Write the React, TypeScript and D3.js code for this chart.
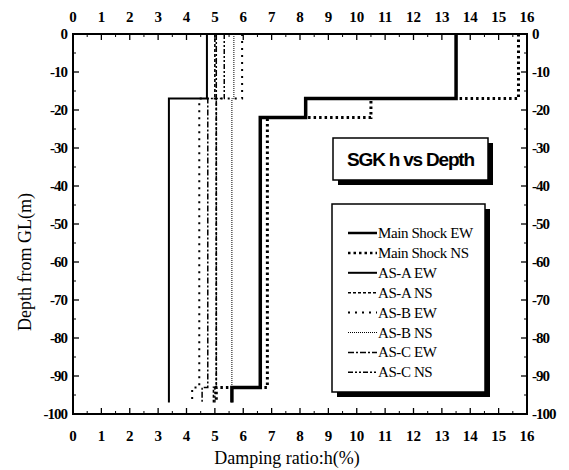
import React from 'react';
import * as d3 from 'd3';

// layer boundaries (m), each series gives one damping value per layer
const depthBounds = [0, -17, -22, -93, -97];
const seriesNames = ['Main Shock EW', 'Main Shock NS', 'AS-A EW', 'AS-A NS', 'AS-B EW', 'AS-B NS', 'AS-C EW', 'AS-C NS'];
const msEW = [13.5, 8.2, 6.6, 5.6];
const msNS = [15.7, 10.5, 6.85, 5.05];
const asAEW = [4.72, 3.38, 3.38, 3.38];
const asANS = [5.0, 5.05, 5.05, 4.95];
const asBEW = [5.96, 4.45, 4.45, 4.2];
const asBNS = [5.67, 5.6, 5.6, 5.6];
const asCEW = [5.05, 4.75, 4.75, 4.55];
const asCNS = [5.33, 5.05, 5.05, 5.0];
const xTicks = d3.range(0, 17);
const yTicks = d3.range(0, -101, -10);

const styles = [
    { w: 3.5, dash: null },
    { w: 3, dash: '2.5,3' },
    { w: 2, dash: null },
    { w: 1.6, dash: '3,2' },
    { w: 2, dash: '2,5' },
    { w: 1, dash: '1,1' },
    { w: 1.5, dash: '6,2,2,2' },
    { w: 1.5, dash: '5,2,2,2,2,2' },
];

export default function App() {
    const all = [msEW, msNS, asAEW, asANS, asBEW, asBNS, asCEW, asCNS];
    const margin = { left: 73, top: 34, right: 42, bottom: 56 };
    const W = 569, H = 470;
    const x = d3.scaleLinear().domain([0, 16]).range([margin.left, W - margin.right]);
    const y = d3.scaleLinear().domain([0, -100]).range([margin.top, H - margin.bottom]);

    const line = d3.line<[number, number]>().x(d => x(d[0])).y(d => y(d[1]));
    const stepPts = (vals: number[]) => {
        const pts: [number, number][] = [];
        vals.forEach((v, i) => {
            pts.push([v, depthBounds[i]]);
            pts.push([v, depthBounds[i + 1]]);
        });
        return pts;
    };

    const minorX = d3.range(0.5, 16, 1);
    const minorY = d3.range(-5, -100, -10);
    const font = "'Liberation Serif', 'DejaVu Serif', serif";

    const legX = 332, legY = 204, legW = 153, legH = 188;
    const ttlX = 333, ttlY = 138, ttlW = 155, ttlH = 42;

    return (
        <svg width={W} height={H} style={{ position: 'absolute', left: 0, top: 0, background: '#fff' }}>
            <rect width={W} height={H} fill="#fff" />
            {/* ticks */}
            {xTicks.map(t => (
                <g key={'xt' + t}>
                    <line x1={x(t)} x2={x(t)} y1={y(0)} y2={y(0) + 6} stroke="#000" strokeWidth={1.3} />
                    <line x1={x(t)} x2={x(t)} y1={y(-100)} y2={y(-100) - 6} stroke="#000" strokeWidth={1.3} />
                    <text x={x(t)} y={22} textAnchor="middle" fontFamily={font} fontSize={15} fontWeight="bold">{t}</text>
                    <text x={x(t)} y={441} textAnchor="middle" fontFamily={font} fontSize={15} fontWeight="bold">{t}</text>
                </g>
            ))}
            {minorX.map(t => (
                <g key={'xm' + t}>
                    <line x1={x(t)} x2={x(t)} y1={y(0)} y2={y(0) + 3} stroke="#000" strokeWidth={1} />
                    <line x1={x(t)} x2={x(t)} y1={y(-100)} y2={y(-100) - 3} stroke="#000" strokeWidth={1} />
                </g>
            ))}
            {yTicks.map(t => (
                <g key={'yt' + t}>
                    <line x1={x(0)} x2={x(0) + 6} y1={y(t)} y2={y(t)} stroke="#000" strokeWidth={1.3} />
                    <line x1={x(16)} x2={x(16) - 6} y1={y(t)} y2={y(t)} stroke="#000" strokeWidth={1.3} />
                    <text x={67} y={y(t) + 5} textAnchor="end" fontFamily={font} fontSize={15} fontWeight="bold" letterSpacing={-1}>{t}</text>
                    <text x={532} y={y(t) + 5} textAnchor="start" fontFamily={font} fontSize={15} fontWeight="bold" letterSpacing={-1}>{t}</text>
                </g>
            ))}
            {minorY.map(t => (
                <g key={'ym' + t}>
                    <line x1={x(0)} x2={x(0) + 3} y1={y(t)} y2={y(t)} stroke="#000" strokeWidth={1} />
                    <line x1={x(16)} x2={x(16) - 3} y1={y(t)} y2={y(t)} stroke="#000" strokeWidth={1} />
                </g>
            ))}
            {/* series */}
            {all.map((vals, i) => (
                <path key={'s' + i} d={line(stepPts(vals)) || ''} fill="none" stroke="#000"
                    strokeWidth={styles[i].w} strokeDasharray={styles[i].dash || undefined} />
            ))}
            {/* frame */}
            <rect x={x(0)} y={y(0)} width={x(16) - x(0)} height={y(-100) - y(0)} fill="none" stroke="#000" strokeWidth={2} />
            {/* title box */}
            <rect x={ttlX + 5} y={ttlY + 5} width={ttlW} height={ttlH} fill="#000" />
            <rect x={ttlX} y={ttlY} width={ttlW} height={ttlH} fill="#fff" stroke="#000" strokeWidth={1.5} />
            <text x={ttlX + ttlW / 2} y={ttlY + 28} textAnchor="middle" fontFamily="'Liberation Sans', Arial, sans-serif"
                fontSize={19} fontWeight="bold" letterSpacing={-1.2}>SGK h vs Depth</text>
            {/* legend */}
            <rect x={legX + 5} y={legY + 5} width={legW} height={legH} fill="#000" />
            <rect x={legX} y={legY} width={legW} height={legH} fill="#fff" stroke="#000" strokeWidth={1.5} />
            {seriesNames.map((n, i) => {
                const ly = 233 + i * 19.9;
                return (
                    <g key={'l' + i}>
                        <line x1={348} x2={377} y1={ly} y2={ly} stroke="#000"
                            strokeWidth={Math.min(styles[i].w, 2.5)} strokeDasharray={styles[i].dash || undefined} />
                        <text x={378} y={ly + 5} fontFamily={font} fontSize={15} letterSpacing={-0.4}>{n}</text>
                    </g>
                );
            })}
            {/* axis titles */}
            <text x={287} y={464} textAnchor="middle" fontFamily={font} fontSize={18}>Damping ratio:h(%)</text>
            <text transform={`translate(31,262) rotate(-90)`} textAnchor="middle" fontFamily={font} fontSize={18}>Depth from GL(m)</text>
        </svg>
    );
}
